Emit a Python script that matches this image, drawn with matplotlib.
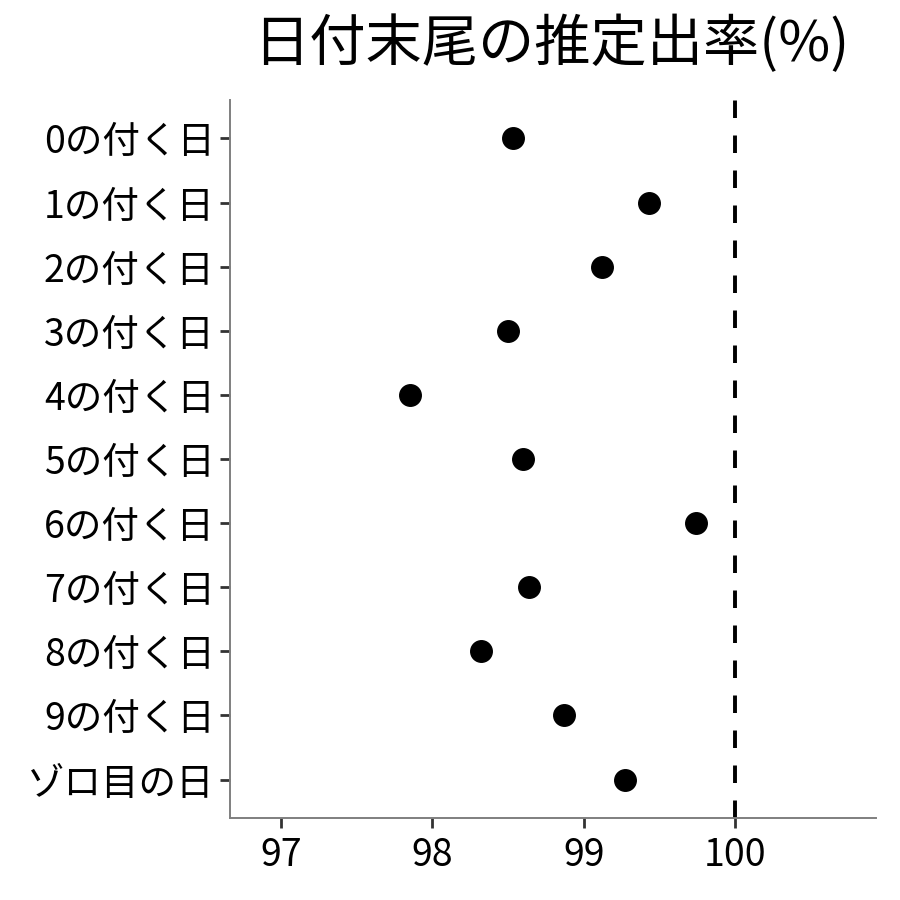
import matplotlib
matplotlib.use("Agg")
import matplotlib.pyplot as plt

plt.rcParams['font.family'] = ['Noto Sans CJK JP', 'DejaVu Sans']

# 日付末尾ごとの推定出率
categories = ["0の付く日", "1の付く日", "2の付く日", "3の付く日", "4の付く日",
              "5の付く日", "6の付く日", "7の付く日", "8の付く日", "9の付く日",
              "ゾロ目の日"]
rates = [98.53, 99.43, 99.12, 98.50, 97.85, 98.60, 99.74, 98.64, 98.32, 98.87, 99.27]
x_ticks = [97, 98, 99, 100]
ref_line = 100

fig = plt.figure(figsize=(9, 9), dpi=100)
ax = fig.add_axes([0.2556, 0.0911, 0.7178, 0.7978])

y_pos = list(range(len(categories)))
ax.plot(rates, y_pos, 'o', color='black', markersize=15.5, zorder=3)
ax.axvline(ref_line, color='black', linewidth=2.8, dashes=(4.5, 4.5), zorder=2)

ax.set_yticks(y_pos)
ax.set_yticklabels(categories)
ax.set_ylim(len(categories) - 0.4, -0.6)
ax.set_xticks(x_ticks)
ax.set_xlim(96.663, 100.93)

for s in ['top', 'right']:
    ax.spines[s].set_visible(False)
for s in ['left', 'bottom']:
    ax.spines[s].set_color('#7f7f7f')
    ax.spines[s].set_linewidth(1.4)
ax.tick_params(axis='both', labelsize=27, colors='#333333', length=7, width=2, labelcolor='black')
ax.tick_params(axis='y', pad=4)
ax.tick_params(axis='x', pad=6)

fig.suptitle("日付末尾の推定出率(%)", fontsize=40.5, x=0.613, y=0.95, va='center')

fig.savefig("out.png", dpi=100)
